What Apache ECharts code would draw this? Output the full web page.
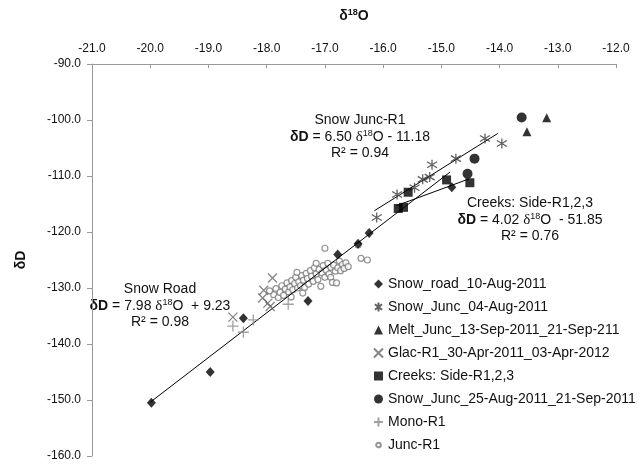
<!DOCTYPE html>
<html>
<head>
<meta charset="utf-8">
<script src="https://cdn.jsdelivr.net/npm/echarts@6/dist/echarts.min.js"></script>
<style>html,body{margin:0;padding:0;background:#fff;}#c{width:641px;height:468px;}</style>
</head>
<body>
<div id="c"></div>
<script>
// ---- axis ticks ----
const xTicks = [-21, -20, -19, -18, -17, -16, -15, -14, -13, -12];
const yTicks = [-160, -150, -140, -130, -120, -110, -100, -90];

// ---- series names ----
const seriesNames = [
  'Snow_road_10-Aug-2011',
  'Snow_Junc_04-Aug-2011',
  'Melt_Junc_13-Sep-2011_21-Sep-211',
  'Glac-R1_30-Apr-2011_03-Apr-2012',
  'Creeks: Side-R1,2,3',
  'Snow_Junc_25-Aug-2011_21-Sep-2011',
  'Mono-R1',
  'Junc-R1'
];

// ---- data: [δ18O, δD] ----
const snowRoad = [[-19.98,-150.5],[-18.97,-145.0],[-18.40,-135.4],[-17.29,-132.3],[-16.78,-124.0],[-16.43,-122.1],[-16.24,-120.2],[-14.82,-112.0]];
const snowJuncAug04 = [[-16.11,-117.4],[-15.76,-113.3],[-15.46,-112.1],[-15.32,-110.6],[-15.20,-110.2],[-15.16,-108.0],[-14.75,-106.9],[-14.25,-103.3],[-13.96,-104.2]];
const meltJunc = [[-13.19,-99.6],[-13.53,-102.1]];
const glacR1 = [[-17.90,-128.2],[-18.05,-130.4],[-18.07,-131.8],[-17.98,-132.7],[-17.94,-133.3],[-18.58,-135.2]];
const creeks = [[-15.74,-115.8],[-15.65,-115.6],[-15.57,-112.9],[-14.91,-110.7],[-14.51,-111.2]];
const snowJuncAug25 = [[-13.62,-99.55],[-14.43,-106.9],[-14.55,-109.6]];
const monoR1 = [[-18.58,-136.8],[-18.40,-137.9],[-18.23,-135.7],[-17.63,-132.9]];
const juncR1 = [
  [-17.88,-131.2],[-17.84,-130.1],[-17.80,-131.7],[-17.77,-130.8],[-17.74,-129.6],[-17.71,-131.3],
  [-17.68,-130.2],[-17.65,-129.1],[-17.62,-130.7],[-17.60,-129.8],[-17.57,-128.7],[-17.55,-130.3],
  [-17.52,-129.2],[-17.50,-128.1],[-17.47,-130.0],[-17.45,-128.9],[-17.42,-129.6],[-17.40,-127.8],
  [-17.37,-128.6],[-17.35,-129.9],[-17.32,-127.4],[-17.30,-128.3],[-17.28,-129.3],[-17.25,-126.9],
  [-17.23,-127.9],[-17.20,-128.8],[-17.18,-126.4],[-17.15,-127.5],[-17.12,-128.5],[-17.10,-126.7],
  [-17.07,-129.7],[-17.05,-127.3],[-17.03,-126.0],[-17.00,-128.1],[-16.98,-126.8],[-16.95,-125.6],
  [-16.93,-127.5],[-16.90,-126.3],[-16.90,-128.1],[-16.87,-129.0],[-16.85,-125.9],[-16.82,-127.0],
  [-16.80,-129.1],[-16.78,-126.4],[-16.75,-125.2],[-16.73,-126.9],[-16.70,-125.8],[-16.67,-126.5],
  [-16.64,-125.5],[-16.60,-126.2],[-17.00,-122.9],[-16.38,-124.7],[-16.27,-125.0],[-16.43,-122.3],
  [-17.95,-130.5],[-17.58,-131.6],[-17.38,-130.9],[-17.15,-125.6],[-17.48,-127.2]
];

// ---- regression line endpoints ----
const snowRoadFit = [[-20.0,-150.4],[-14.85,-109.3]];
const snowJuncFit = [[-16.15,-116.2],[-14.03,-102.4]];
const creeksFit = [[-15.77,-115.3],[-14.52,-110.5]];

// ---- annotation texts ----
const noteSnowJunc = ['Snow Junc-R1', '6.50', '- 11.18', '0.94'];
const noteCreeks = ['Creeks: Side-R1,2,3', '4.02', ' - 51.85', '0.76'];
const noteSnowRoad = ['Snow Road', '7.98', ' + 9.23', '0.98'];

const FONT = '"Liberation Sans", Arial, Helvetica, sans-serif';
const SERIF = '"Liberation Serif", "Times New Roman", serif';

const pathAst = 'path://M0.5,2L8.5,8M8.5,2L0.5,8M4.5,0L4.5,10';
const pathX = 'path://M0,0L8,8M8,0L0,8';
const pathPlus = 'path://M5,0L5,10M0,5L10,5';
const legendSmallCircle = 'path://M0,0M10,10M5,2.4C6.4,2.4 7.6,3.6 7.6,5C7.6,6.4 6.4,7.6 5,7.6C3.6,7.6 2.4,6.4 2.4,5C2.4,3.6 3.6,2.4 5,2.4Z';

function note(lines){
  return '{t|' + lines[0] + '}\n{b|δD}{t| = ' + lines[1] + ' }{d|δ}{s|18}{t|O ' + lines[2] + '}\n{t|R² = ' + lines[3] + '}';
}
const richNote = {
  t: {fontSize: 14, fontFamily: FONT, color: '#111', lineHeight: 16.5},
  b: {fontSize: 14, fontFamily: FONT, color: '#111', fontWeight: 'bold', lineHeight: 16.5},
  d: {fontSize: 15, fontFamily: SERIF, color: '#111', lineHeight: 16.5},
  s: {fontSize: 9, fontFamily: FONT, color: '#111', lineHeight: 11, verticalAlign: 'top'}
};

const chart = echarts.init(document.getElementById('c'), null, {renderer: 'canvas'});

function scatter(name, data, symbol, size, itemStyle, z){
  return {type: 'scatter', name, data, symbol, symbolSize: size, itemStyle, z: z || 3, silent: true};
}
function fitLine(data){
  return {type: 'line', data, symbol: 'none', lineStyle: {color: '#000', width: 1}, z: 2, silent: true};
}

const option = {
  animation: false,
  backgroundColor: '#ffffff',
  textStyle: {fontFamily: FONT},
  grid: {left: 92, right: 25, top: 64, bottom: 12, containLabel: false, outerBoundsMode: 'none'},
  xAxis: {
    type: 'value', position: 'top',
    min: xTicks[0], max: xTicks[xTicks.length - 1], interval: 1,
    name: '{d|δ}{s|18}{o|O}', nameLocation: 'middle', nameGap: 40,
    nameTextStyle: {rich: {
      d: {fontSize: 14, fontWeight: 'bold', fontFamily: FONT, color: '#111', lineHeight: 16},
      s: {fontSize: 9, fontWeight: 'bold', fontFamily: FONT, color: '#111', lineHeight: 10, verticalAlign: 'top'},
      o: {fontSize: 14, fontWeight: 'bold', fontFamily: FONT, color: '#111', lineHeight: 16}
    }},
    axisLine: {show: true, onZero: false, lineStyle: {color: '#999', width: 1}},
    axisTick: {show: true, inside: true, length: 4, lineStyle: {color: '#999'}},
    axisLabel: {formatter: v => v.toFixed(1), fontSize: 12, color: '#111', margin: 9, fontFamily: FONT},
    splitLine: {show: false}
  },
  yAxis: {
    type: 'value',
    min: yTicks[0], max: yTicks[yTicks.length - 1], interval: 10,
    name: 'δD', nameLocation: 'middle', nameGap: 64,
    nameTextStyle: {fontSize: 14, fontWeight: 'bold', color: '#111', fontFamily: FONT},
    axisLine: {show: true, onZero: false, lineStyle: {color: '#999', width: 1}},
    axisTick: {show: true, inside: false, length: 5, lineStyle: {color: '#999'}},
    axisLabel: {formatter: v => v.toFixed(1), fontSize: 12, color: '#111', margin: 11, fontFamily: FONT},
    splitLine: {show: false}
  },
  legend: {
    orient: 'vertical', left: 373, top: 276, padding: 0,
    itemWidth: 9, itemHeight: 9, itemGap: 7,
    textStyle: {fontSize: 14, color: '#111', fontFamily: FONT, lineHeight: 16},
    selectedMode: false,
    data: seriesNames.map((n, i) => i === 7 ? {name: n, icon: legendSmallCircle} : {name: n})
  },
  series: [
    scatter(seriesNames[7], juncR1, 'circle', 6, {color: '#fff', borderColor: '#7a7a7a', borderWidth: 1.2}, 1),
    fitLine(snowRoadFit),
    fitLine(snowJuncFit),
    fitLine(creeksFit),
    scatter(seriesNames[0], snowRoad, 'diamond', [9, 10], {color: '#000'}),
    scatter(seriesNames[1], snowJuncAug04, pathAst, 10, {color: 'rgba(0,0,0,0)', borderColor: '#3a3a3a', borderWidth: 1.3}),
    scatter(seriesNames[2], meltJunc, 'triangle', 9, {color: '#000'}),
    scatter(seriesNames[3], glacR1, pathX, 9, {color: 'rgba(0,0,0,0)', borderColor: '#666', borderWidth: 1.3}),
    scatter(seriesNames[4], creeks, 'rect', 9, {color: '#000'}),
    scatter(seriesNames[5], snowJuncAug25, 'circle', 10, {color: '#000'}),
    scatter(seriesNames[6], monoR1, pathPlus, 11, {color: 'rgba(0,0,0,0)', borderColor: '#888', borderWidth: 1.3})
  ],
  graphic: [
    {type: 'text', x: 360, y: 137, silent: true, style: {text: note(noteSnowJunc), rich: richNote, align: 'center', verticalAlign: 'middle', font: '14px ' + FONT, fill: '#111'}},
    {type: 'text', x: 530, y: 220, silent: true, style: {text: note(noteCreeks), rich: richNote, align: 'center', verticalAlign: 'middle', font: '14px ' + FONT, fill: '#111'}},
    {type: 'text', x: 160, y: 306, silent: true, style: {text: note(noteSnowRoad), rich: richNote, align: 'center', verticalAlign: 'middle', font: '14px ' + FONT, fill: '#111'}}
  ]
};
chart.setOption(option);
</script>
</body>
</html>
